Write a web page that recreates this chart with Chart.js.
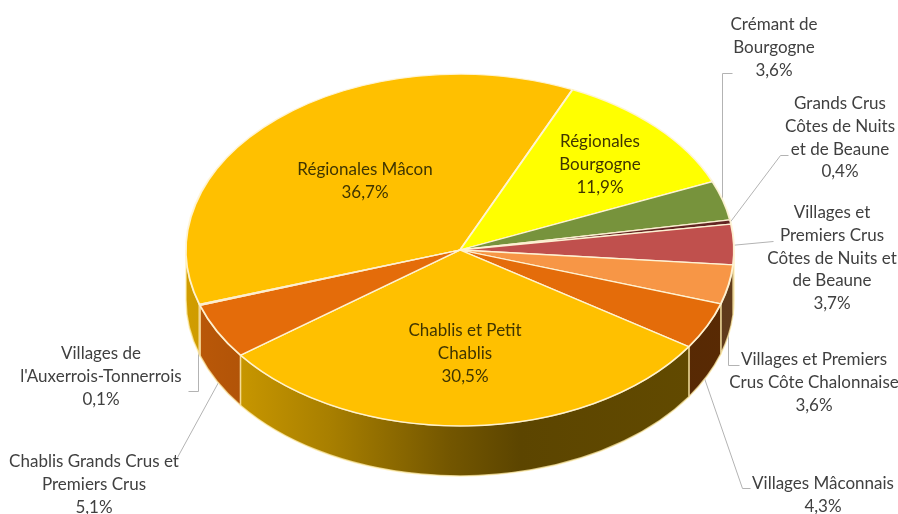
<!DOCTYPE html>
<html>
<head>
<meta charset="utf-8">
<title>Bourgogne</title>
<style>
  html, body { margin: 0; padding: 0; background: #fff; }
  canvas { display: block; }
</style>
<script src="https://cdn.jsdelivr.net/npm/chart.js@4"></script>
</head>
<body>
<canvas id="myChart" width="898" height="514"></canvas>
<script>
// slices, clockwise from the Mâcon wedge
const categories = [
  'Régionales Mâcon', 'Régionales Bourgogne', 'Crémant de Bourgogne',
  'Grands Crus Côtes de Nuits et de Beaune', 'Villages et Premiers Crus Côtes de Nuits et de Beaune',
  'Villages et Premiers Crus Côte Chalonnaise', 'Villages Mâconnais',
  'Chablis et Petit Chablis', 'Chablis Grands Crus et Premiers Crus', "Villages de l'Auxerrois-Tonnerrois"
]
const shares = [36.7, 11.9, 3.6, 0.4, 3.7, 3.6, 4.3, 30.5, 5.1, 0.1]
const colors = ['#FFC000', '#FFFF00', '#77933C', '#632523', '#C0504D', '#F79646', '#E46C0A', '#FFC000', '#E46C0A', '#C0504D']

// how each category name wraps on the chart
const labelLines = [
  ['Régionales Mâcon'],
  ['Régionales', 'Bourgogne'],
  ['Crémant de', 'Bourgogne'],
  ['Grands Crus', 'Côtes de Nuits', 'et de Beaune'],
  ['Villages et', 'Premiers Crus', 'Côtes de Nuits et', 'de Beaune'],
  ['Villages et Premiers', 'Crus Côte Chalonnaise'],
  ['Villages Mâconnais'],
  ['Chablis et Petit', 'Chablis'],
  ['Chablis Grands Crus et', 'Premiers Crus'],
  ['Villages de', "l'Auxerrois-Tonnerrois"]
]

// layout of the labels: centre x, middle of first line y
const labelAnchors = [
  [365, 170], [600, 142], [774, 25], [840, 104], [832, 213],
  [814, 360], [823, 484], [465, 331], [94, 462], [101, 354]
]
const leaderLines = [
  [[732, 73], [722, 73], [722, 205]],
  [[788, 155], [780, 155], [728, 224]],
  [[730, 245], [773, 241]],
  [[739, 365], [728, 365], [728, 320]],
  [[750, 488], [742, 488], [703, 375]],
  [[188, 391], [198, 391], [198, 330]],
  [[177, 457], [218, 382]]
]

const tilt = 0.642    // vertical squash of the disc
const depth = 50      // height of the side wall
const lineHeight = 22.6

// light falling off from left to right along the wall
const wallLight = [[186, 0.82], [240, 0.78], [330, 0.66], [450, 0.45], [520, 0.36], [733, 0.39]]

function shade(hex, f) {
  const n = parseInt(hex.slice(1), 16)
  return `rgb(${Math.round((n >> 16) * f)},${Math.round(((n >> 8) & 255) * f)},${Math.round((n & 255) * f)})`
}

function wallGradient(ctx, hex) {
  const x0 = wallLight[0][0]
  const x1 = wallLight[wallLight.length - 1][0]
  const g = ctx.createLinearGradient(x0, 0, x1, 0)
  wallLight.forEach(([x, f]) => g.addColorStop((x - x0) / (x1 - x0), shade(hex, f)))
  return g
}

function drawLeaders(ctx) {
  ctx.save()
  ctx.strokeStyle = '#b3b3b3'
  ctx.lineWidth = 1
  leaderLines.forEach((pts) => {
    ctx.beginPath()
    pts.forEach(([x, y], i) => (i ? ctx.lineTo(x + 0.5, y + 0.5) : ctx.moveTo(x + 0.5, y + 0.5)))
    ctx.stroke()
  })
  ctx.restore()
}

// side wall below every slice that reaches the front half of the disc
function drawWalls(chart) {
  const ctx = chart.ctx
  const arcs = chart.getDatasetMeta(0).data
  const TAU = Math.PI * 2
  arcs.forEach((arc, i) => {
    const { x, y, startAngle, endAngle, outerRadius } = arc
    for (const turn of [-TAU, 0, TAU]) {
      const a = Math.max(startAngle + turn, 0)
      const b = Math.min(endAngle + turn, Math.PI)
      if (b <= a) continue
      ctx.beginPath()
      ctx.ellipse(x, y, outerRadius, outerRadius * tilt, 0, a, b)
      ctx.ellipse(x, y + depth, outerRadius, outerRadius * tilt, 0, b, a, true)
      ctx.closePath()
      ctx.fillStyle = wallGradient(ctx, colors[i])
      ctx.fill()
      ctx.strokeStyle = 'rgba(255,236,170,0.75)'
      ctx.lineWidth = 1.5
      ctx.stroke()
    }
  })
}

function drawLabels(ctx) {
  ctx.save()
  ctx.font = '17px Lato'
  ctx.textAlign = 'center'
  ctx.textBaseline = 'middle'
  labelLines.forEach((lines, i) => {
    const [x, y] = labelAnchors[i]
    const pct = shares[i].toFixed(1).replace('.', ',') + '%'
    const inside = i === 0 || i === 1 || i === 7
    ctx.fillStyle = inside ? '#403500' : '#404040'
    lines.concat(pct).forEach((t, k) => ctx.fillText(t, x, y + k * lineHeight))
  })
  ctx.restore()
}

const disc3d = {
  id: 'disc3d',
  beforeDatasetsDraw(chart) {
    drawLeaders(chart.ctx)
    drawWalls(chart)
  },
  beforeDatasetDraw(chart) {
    const { x, y } = chart.getDatasetMeta(0).data[0]
    chart.ctx.save()
    chart.ctx.translate(x, y)
    chart.ctx.scale(1, tilt)
    chart.ctx.translate(-x, -y)
  },
  afterDatasetDraw(chart) {
    chart.ctx.restore()
  },
  afterDraw(chart) {
    drawLabels(chart.ctx)
  }
}

new Chart(document.getElementById('myChart').getContext('2d'), {
  type: 'pie',
  data: {
    labels: categories,
    datasets: [{
      data: shares,
      backgroundColor: colors,
      borderColor: 'rgba(255,244,214,0.95)',
      borderWidth: 2,
      clip: false
    }]
  },
  options: {
    responsive: false,
    animation: false,
    rotation: 252,
    radius: 274,
    layout: { padding: { left: 22, bottom: 14 } },
    events: [],
    plugins: { legend: { display: false }, tooltip: { enabled: false } }
  },
  plugins: [disc3d]
})
</script>
</body>
</html>
